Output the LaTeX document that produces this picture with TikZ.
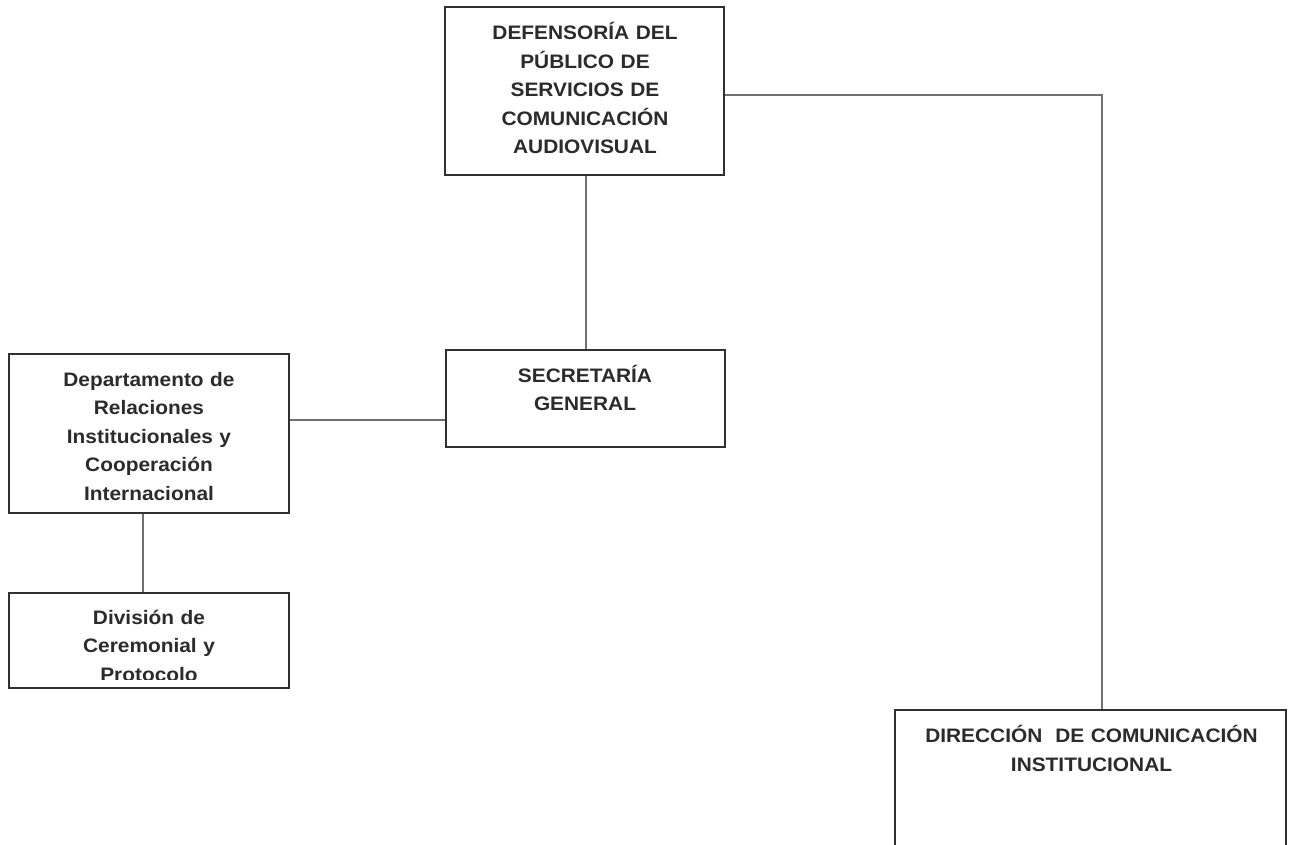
\documentclass[tikz,border=0pt]{standalone}
\usepackage{fontspec}
\setmainfont{Liberation Sans}[FakeStretch=1.07]
\definecolor{ink}{HTML}{2B2B2B}
\definecolor{boxline}{HTML}{303030}
\definecolor{conn}{HTML}{707070}
\tikzset{
  box/.style={draw=boxline, line width=2pt, rectangle, inner sep=0pt},
  txt/.style={text=ink, inner sep=0pt, align=center, font=\fontsize{19.5}{28.5}\selectfont\bfseries, anchor=base},
  link/.style={draw=conn, line width=1.5pt}
}
\begin{document}
\begin{tikzpicture}[x=1pt,y=-1pt]
\clip (0,0) rectangle (1293,845);
\fill[white] (0,0) rectangle (1293,845);
% boxes
\node[box, minimum width=279pt, minimum height=168pt] (top) at (584.5,91) {};
\node[box, minimum width=279pt, minimum height=97pt] (sg) at (585.5,398.5) {};
\node[box, minimum width=280pt, minimum height=159pt] (dept) at (149,433.5) {};
\node[box, minimum width=280pt, minimum height=95pt] (div) at (149,640.5) {};
\node[box, minimum width=391pt, minimum height=170pt] (dir) at (1090.5,795) {};
% texts
\node[txt, text width=270pt] (toptxt) at (585,40) {DEFENSORÍA DEL\\PÚBLICO DE\\SERVICIOS DE\\COMUNICACIÓN\\AUDIOVISUAL};
\node[txt, text width=270pt] (sgtxt) at (585,382) {SECRETARÍA\\GENERAL};
\node[txt, text width=270pt] (depttxt) at (149,386) {Departamento de\\Relaciones\\Institucionales y\\Cooperación\\Internacional};
\begin{scope}
\clip (10,595) rectangle (288,679);
\node[txt, text width=270pt] (divtxt) at (149,624) {División de\\Ceremonial y\\Protocolo};
\end{scope}
\node[txt, text width=380pt, font=\fontsize{19.5}{29}\selectfont\bfseries] (dirtxt) at (1091.5,742) {DIRECCIÓN\ \ DE COMUNICACIÓN\\INSTITUCIONAL};
% connectors
\draw[link] ([xshift=1.5pt]top.south) -- ([xshift=0.5pt]sg.north);
\draw[link] (dept.east |- 0,420) -- (sg.west |- 0,420);
\draw[link] ([xshift=-6pt]dept.south) -- ([xshift=-6pt]div.north);
\draw[link] (top.east |- 0,95) -| ([xshift=11.5pt]dir.north);
\end{tikzpicture}
\end{document}
